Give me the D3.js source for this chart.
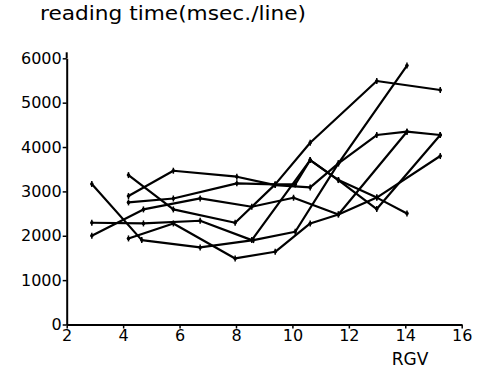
<!DOCTYPE html>
<html>
<head>
<meta charset="utf-8">
<script src="https://cdn.jsdelivr.net/npm/d3@7"></script>
<style>
  body { margin: 0; background: #fff; }
  text { font-family: "DejaVu Sans", sans-serif; fill: #000; }
</style>
</head>
<body>
<div id="chart-area"></div>
<script>
// reading time per RGV value, one pair of arrays per line
const rgvA = [2.89, 4.66, 6.73, 8.62, 10.1, 11.63, 14.06]
const msA  = [3165, 1902, 1737, 1902, 2090, 3632, 5835]
const rgvB = [4.19, 5.78, 7.97, 9.39, 10.63, 12.99, 15.24]
const msB  = [3368, 2594, 2293, 3158, 4098, 5489, 5286]
const rgvC = [4.19, 5.78, 8.03, 9.39, 10.63, 11.63, 12.99, 14.06, 15.24]
const msC  = [2895, 3466, 3331, 3143, 3090, 3632, 4271, 4346, 4271]
const rgvD = [4.19, 5.78, 8.03, 9.39, 10.1, 10.63, 11.63, 12.99, 15.24]
const msD  = [2752, 2840, 3181, 3158, 3158, 3707, 3256, 2602, 4271]
const rgvE = [2.89, 4.72, 6.73, 8.56, 10.04, 11.63, 14.06]
const msE  = [2000, 2594, 2842, 2654, 2857, 2481, 4346]
const rgvF = [4.19, 5.78, 7.97, 9.39, 10.63, 11.63, 12.99, 15.24]
const msF  = [1940, 2278, 1489, 1639, 2278, 2481, 2860, 3797]
const rgvH = [2.89, 4.72, 6.73, 8.56, 10.63, 11.63, 12.99, 14.06]
const msH  = [2293, 2278, 2338, 1902, 3707, 3256, 2860, 2504]

const xTicks = [2, 4, 6, 8, 10, 12, 14, 16]
const yTicks = [0, 1000, 2000, 3000, 4000, 5000, 6000]

const lines = [
	[rgvA, msA], [rgvB, msB], [rgvC, msC], [rgvD, msD],
	[rgvE, msE], [rgvF, msF], [rgvH, msH]
].map(([xs, ys]) => xs.map((v, i) => ({ rgv: v, ms: ys[i] })))

const svg = d3.select("#chart-area").append("svg")
	.attr("width", 479)
	.attr("height", 372)

const x = d3.scaleLinear().domain([2, 16]).range([66.7, 461.7])
const y = d3.scaleLinear().domain([0, 6000]).range([324.5, 58.3])

// axes
svg.append("g")
	.attr("transform", `translate(0, ${y(0)})`)
	.call(d3.axisBottom(x).tickValues(xTicks).tickSize(4).tickSizeOuter(0).tickPadding(1))
svg.append("g")
	.attr("transform", `translate(${x(2)}, 0)`)
	.call(d3.axisLeft(y).tickValues(yTicks).tickFormat(d3.format("d"))
		.tickSize(4).tickSizeOuter(0).tickPadding(1))

// y axis runs a little past the top tick
svg.append("line")
	.attr("x1", x(2)).attr("x2", x(2))
	.attr("y1", y(6000)).attr("y2", y(6000) - 6)
	.attr("stroke", "#000")
	.attr("stroke-width", 2)

svg.selectAll(".domain").attr("stroke-width", 2).attr("stroke", "#000")
svg.selectAll(".tick line").attr("stroke-width", 1.5).attr("stroke", "#000")
svg.selectAll(".tick text")
	.style("font-family", "DejaVu Sans")
	.attr("font-size", "16px")
	.attr("fill", "#000")

// axis titles
svg.append("text")
	.attr("x", 40)
	.attr("y", 20)
	.attr("font-size", "19px")
	.attr("textLength", 266)
	.attr("lengthAdjust", "spacingAndGlyphs")
	.text("reading time(msec./line)")

svg.append("text")
	.attr("x", 410)
	.attr("y", 365)
	.attr("font-size", "17px")
	.attr("text-anchor", "middle")
	.text("RGV")

// line path generator
const line = d3.line()
	.x(d => x(d.rgv))
	.y(d => y(d.ms))

svg.selectAll(".series")
	.data(lines)
	.enter().append("path")
	.attr("class", "series")
	.attr("fill", "none")
	.attr("stroke", "#000")
	.attr("stroke-width", 2.2)
	.attr("stroke-linejoin", "round")
	.attr("d", line)

// tick-like markers at every point
const pts = lines.flat()
svg.selectAll(".mark")
	.data(pts)
	.enter().append("line")
	.attr("class", "mark")
	.attr("x1", d => x(d.rgv))
	.attr("x2", d => x(d.rgv))
	.attr("y1", d => y(d.ms) - 3)
	.attr("y2", d => y(d.ms) + 3)
	.attr("stroke", "#000")
	.attr("stroke-width", 1.5)
svg.selectAll(".dot")
	.data(pts)
	.enter().append("circle")
	.attr("class", "dot")
	.attr("cx", d => x(d.rgv))
	.attr("cy", d => y(d.ms))
	.attr("r", 1.8)
	.attr("fill", "#000")
</script>
</body>
</html>
